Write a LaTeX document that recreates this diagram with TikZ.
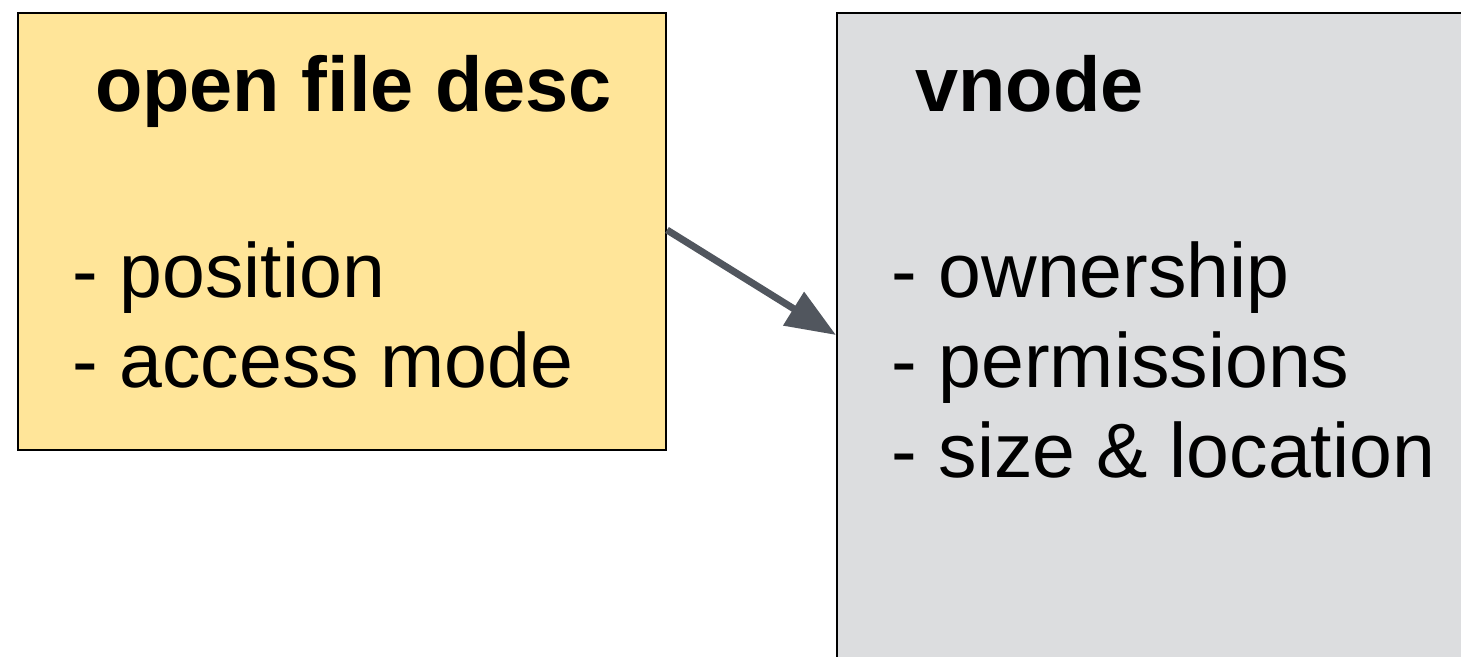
\documentclass[tikz,border=0pt]{standalone}
\usepackage{fontspec}
\setmainfont{Liberation Sans}
\usetikzlibrary{arrows.meta}
\definecolor{descfill}{HTML}{FFE599}
\definecolor{vnodefill}{HTML}{DCDDDF}
\definecolor{linkgray}{HTML}{51565E}
\tikzset{
  box/.style={draw=black, line width=2pt, rectangle, inner sep=0pt},
  title/.style={anchor=base west, inner sep=0pt, font=\fontsize{77.5}{90}\selectfont\bfseries},
  item/.style={anchor=base west, inner sep=0pt, font=\fontsize{77}{90}\selectfont},
  link/.style={draw=linkgray, line width=7pt, -{Triangle[length=50pt,width=38pt]}}
}
\begin{document}
\begin{tikzpicture}[x=1pt, y=-1pt]
  \useasboundingbox (0,0) rectangle (1461,656);
  \clip (0,0) rectangle (1461,656);
  \fill[white] (0,0) rectangle (1461,656);
  % open file description box
  \node[box, fill=descfill, minimum width=648pt, minimum height=437pt, anchor=north west] (ofd) at (17,12) {};
  % vnode box, running past the page edges
  \node[box, fill=vnodefill, minimum width=660pt, minimum height=720pt, anchor=north west] (vn) at (836,12) {};
  % texts
  \node[title] (ofdtitle) at (95,111) {open file desc};
  \node[item] (ofdpos) at (72.5,297) {- position};
  \node[item] (ofdmode) at (72.5,387) {- access mode};
  \node[title] (vntitle) at (915,111) {vnode};
  \node[item] (vnown) at (891.5,297) {- ownership};
  \node[item] (vnperm) at (891.5,387) {- permissions};
  \node[item] (vnsize) at (891.5,477) {- size \& location};
  % reference from descriptor to vnode
  \coordinate (from) at (ofd.north east |- 0,230);
  \coordinate (to) at (vn.north west |- 0,335);
  \draw[link] (from) -- (to);
\end{tikzpicture}
\end{document}
